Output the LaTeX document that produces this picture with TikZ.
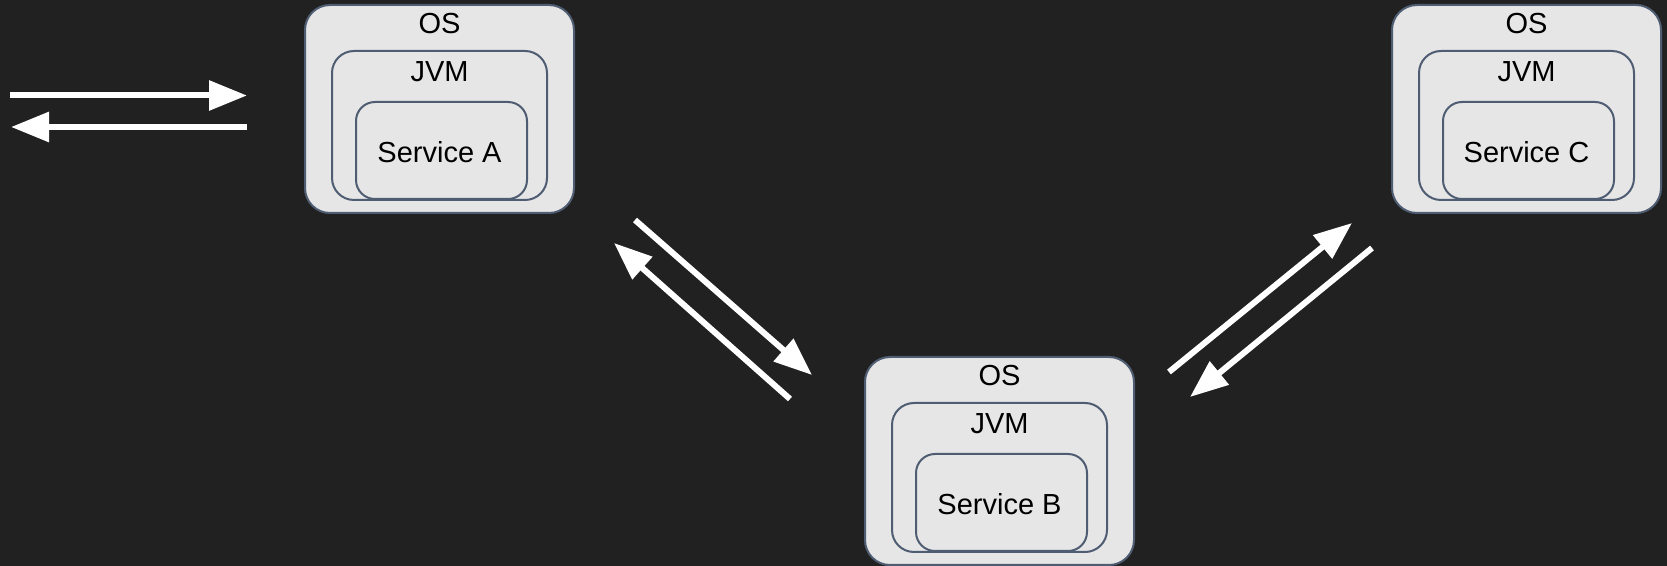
\documentclass[tikz,border=0pt]{standalone}
\usepackage{fontspec}
\setmainfont{Liberation Sans}
\usetikzlibrary{arrows.meta}
\definecolor{bg}{HTML}{212121}
\definecolor{boxfill}{HTML}{E6E6E6}
\definecolor{boxline}{HTML}{4F5D73}
\tikzset{
  layer/.style={draw=boxline, fill=boxfill, line width=1pt, inner sep=0pt},
  oslayer/.style={layer, rounded corners=12.5pt, minimum width=134.5pt, minimum height=104pt},
  jvmlayer/.style={layer, rounded corners=11pt, minimum width=107.5pt, minimum height=74.5pt},
  svclayer/.style={layer, rounded corners=9.5pt, minimum width=85.5pt, minimum height=48.5pt,
    font=\fontsize{14.5pt}{17pt}\selectfont},
  caption/.style={inner sep=0pt, font=\fontsize{14.5pt}{17pt}\selectfont},
  flow/.style={draw=white, line width=3pt, -{Triangle[length=19pt,width=14.5pt]}}
}
% one host: OS box holding a JVM box holding the service
\newcommand{\hoststack}[4]{%
  \node[oslayer] (#1-os) at (#2,#3) {};
  \node[caption] (#1-oslabel) at (#2,#3-85) {OS};
  \node[jvmlayer] (#1-jvm) at (#2,#3+16.5) {};
  \node[caption] (#1-jvmlabel) at (#2,#3-37) {JVM};
  \node[svclayer] (#1-svc) at (#2+2,#3+41.5) {};
  \node[caption] (#1-svclabel) at (#2,#3+43) {#4};
}
\begin{document}
\begin{tikzpicture}[x=0.5pt,y=-0.5pt]
  \fill[bg] (0,0) rectangle (1667,566);
  \useasboundingbox (0,0) rectangle (1667,566);

  \hoststack{a}{439.5}{109}{Service A}
  \hoststack{b}{999.5}{461}{Service B}
  \hoststack{c}{1526.5}{109}{Service C}

  % client traffic into service A
  \coordinate (in-start) at (10,95.5);
  \coordinate (in-end) at (247,95.5);
  \coordinate (out-start) at (247,127);
  \coordinate (out-end) at (11,127);
  \draw[flow] (in-start) -- (in-end);
  \draw[flow] (out-start) -- (out-end);

  % A <-> B
  \coordinate (ab-start) at (635,220);
  \coordinate (ab-end) at (812,375);
  \coordinate (ba-start) at (790,399);
  \coordinate (ba-end) at (614,243);
  \draw[flow] (ab-start) -- (ab-end);
  \draw[flow] (ba-start) -- (ba-end);

  % B <-> C
  \coordinate (bc-start) at (1169,372);
  \coordinate (bc-end) at (1352,223);
  \coordinate (cb-start) at (1372,248);
  \coordinate (cb-end) at (1190,397);
  \draw[flow] (bc-start) -- (bc-end);
  \draw[flow] (cb-start) -- (cb-end);
\end{tikzpicture}
\end{document}
